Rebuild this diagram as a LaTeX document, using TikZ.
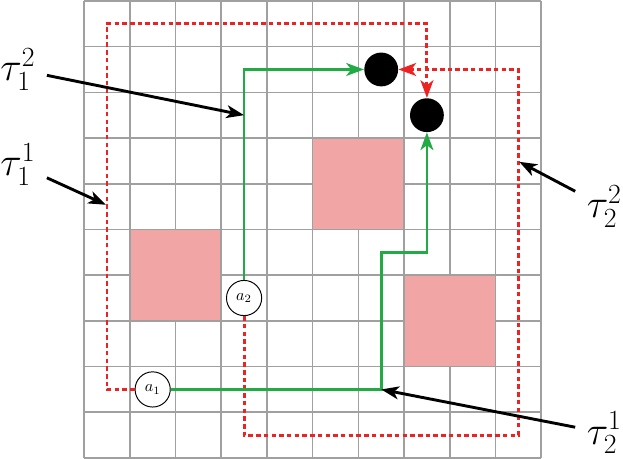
\documentclass[tikz,border=0pt]{standalone}
\usetikzlibrary{arrows.meta}

\definecolor{gridgray}{RGB}{160,160,160}
\definecolor{obstpink}{RGB}{242,165,165}
\definecolor{pathgreen}{RGB}{34,170,68}
\definecolor{pathred}{RGB}{238,34,34}

\tikzset{
  gridline/.style={gridgray, line width=1pt},
  obstacle/.style={fill=obstpink, draw=gridgray, line width=1pt},
  agent/.style={draw, circle, semithick, fill=white, minimum size=0.77cm, inner sep=0pt},
  goal/.style={circle, fill=black, minimum size=0.74cm, inner sep=0pt},
  planned/.style={pathgreen, line width=1.7pt, -{Stealth[length=11pt,width=8pt,inset=3pt]}},
  fallback/.style={pathred, line width=1.8pt, dash pattern=on 2.8pt off 2pt,
    -{Stealth[length=11pt,width=8pt,inset=3pt]}},
  pointer/.style={black, line width=1.8pt, -{Stealth[length=11pt,width=8pt,inset=3pt]}},
  tlabel/.style={font={\fontsize{23}{27}\selectfont}, inner sep=7pt}
}

\begin{document}
\begin{tikzpicture}
    \useasboundingbox (-1.84,-0.02) rectangle (11.79,10.02);

    % grid and obstacles
    \draw[gridline] (0,0) grid (10,10);
    \draw[obstacle] (1,3) rectangle (3,5);
    \draw[obstacle] (5,5) rectangle (7,7);
    \draw[obstacle] (7,2) rectangle (9,4);

    % agents and goals
    \node[agent] (a1) at (1.5, 1.5) {$a_1$};
    \node[agent] (a2) at (3.5, 3.5) {$a_2$};
    \node[goal] (g1) at (6.5, 8.5) {};
    \node[goal] (g2) at (7.5, 7.5) {};

    % turning points
    \coordinate (c1) at (0.5, 1.5);
    \coordinate (c2) at (0.5, 9.5);
    \coordinate (c3) at (7.5, 9.5);
    \coordinate (c4) at (3.5, 0.5);
    \coordinate (c5) at (9.5, 0.5);
    \coordinate (c6) at (9.5, 8.5);
    \coordinate (c7) at (3.5, 8.5);
    \coordinate (c8) at (6.5, 1.5);
    \coordinate (c9) at (6.5, 4.5);
    \coordinate (c10) at (7.5, 4.5);

    \draw[fallback] (a1) -- (c1) -- (c2) -- (c3) -- (g2);
    \draw[fallback] (a2) -- (c4) -- (c5) -- (c6) -- (g1);
    \draw[planned] (a2) -- (c7) -- (g1);
    \draw[planned] (a1) -- (c8) -- (c9) -- (c10) -- (g2);

    % labels
    \node[tlabel] (t12) at (-1.45, 8.5) {$\tau_1^2$};
    \node[tlabel] (t11) at (-1.45, 6.42) {$\tau_1^1$};
    \node[tlabel] (t22) at (11.38, 5.5) {$\tau_2^2$};
    \node[tlabel] (t21) at (11.38, 0.55) {$\tau_2^1$};

    \coordinate (p12) at (3.5, 7.5);
    \coordinate (p11) at (0.48, 5.54);
    \coordinate (p22) at (9.52, 6.48);
    \coordinate (p21) at (6.5, 1.5);

    \draw[pointer] (t12) -- (p12);
    \draw[pointer] (t11) -- (p11);
    \draw[pointer] (t22) -- (p22);
    \draw[pointer] (t21) -- (p21);
\end{tikzpicture}
\end{document}
